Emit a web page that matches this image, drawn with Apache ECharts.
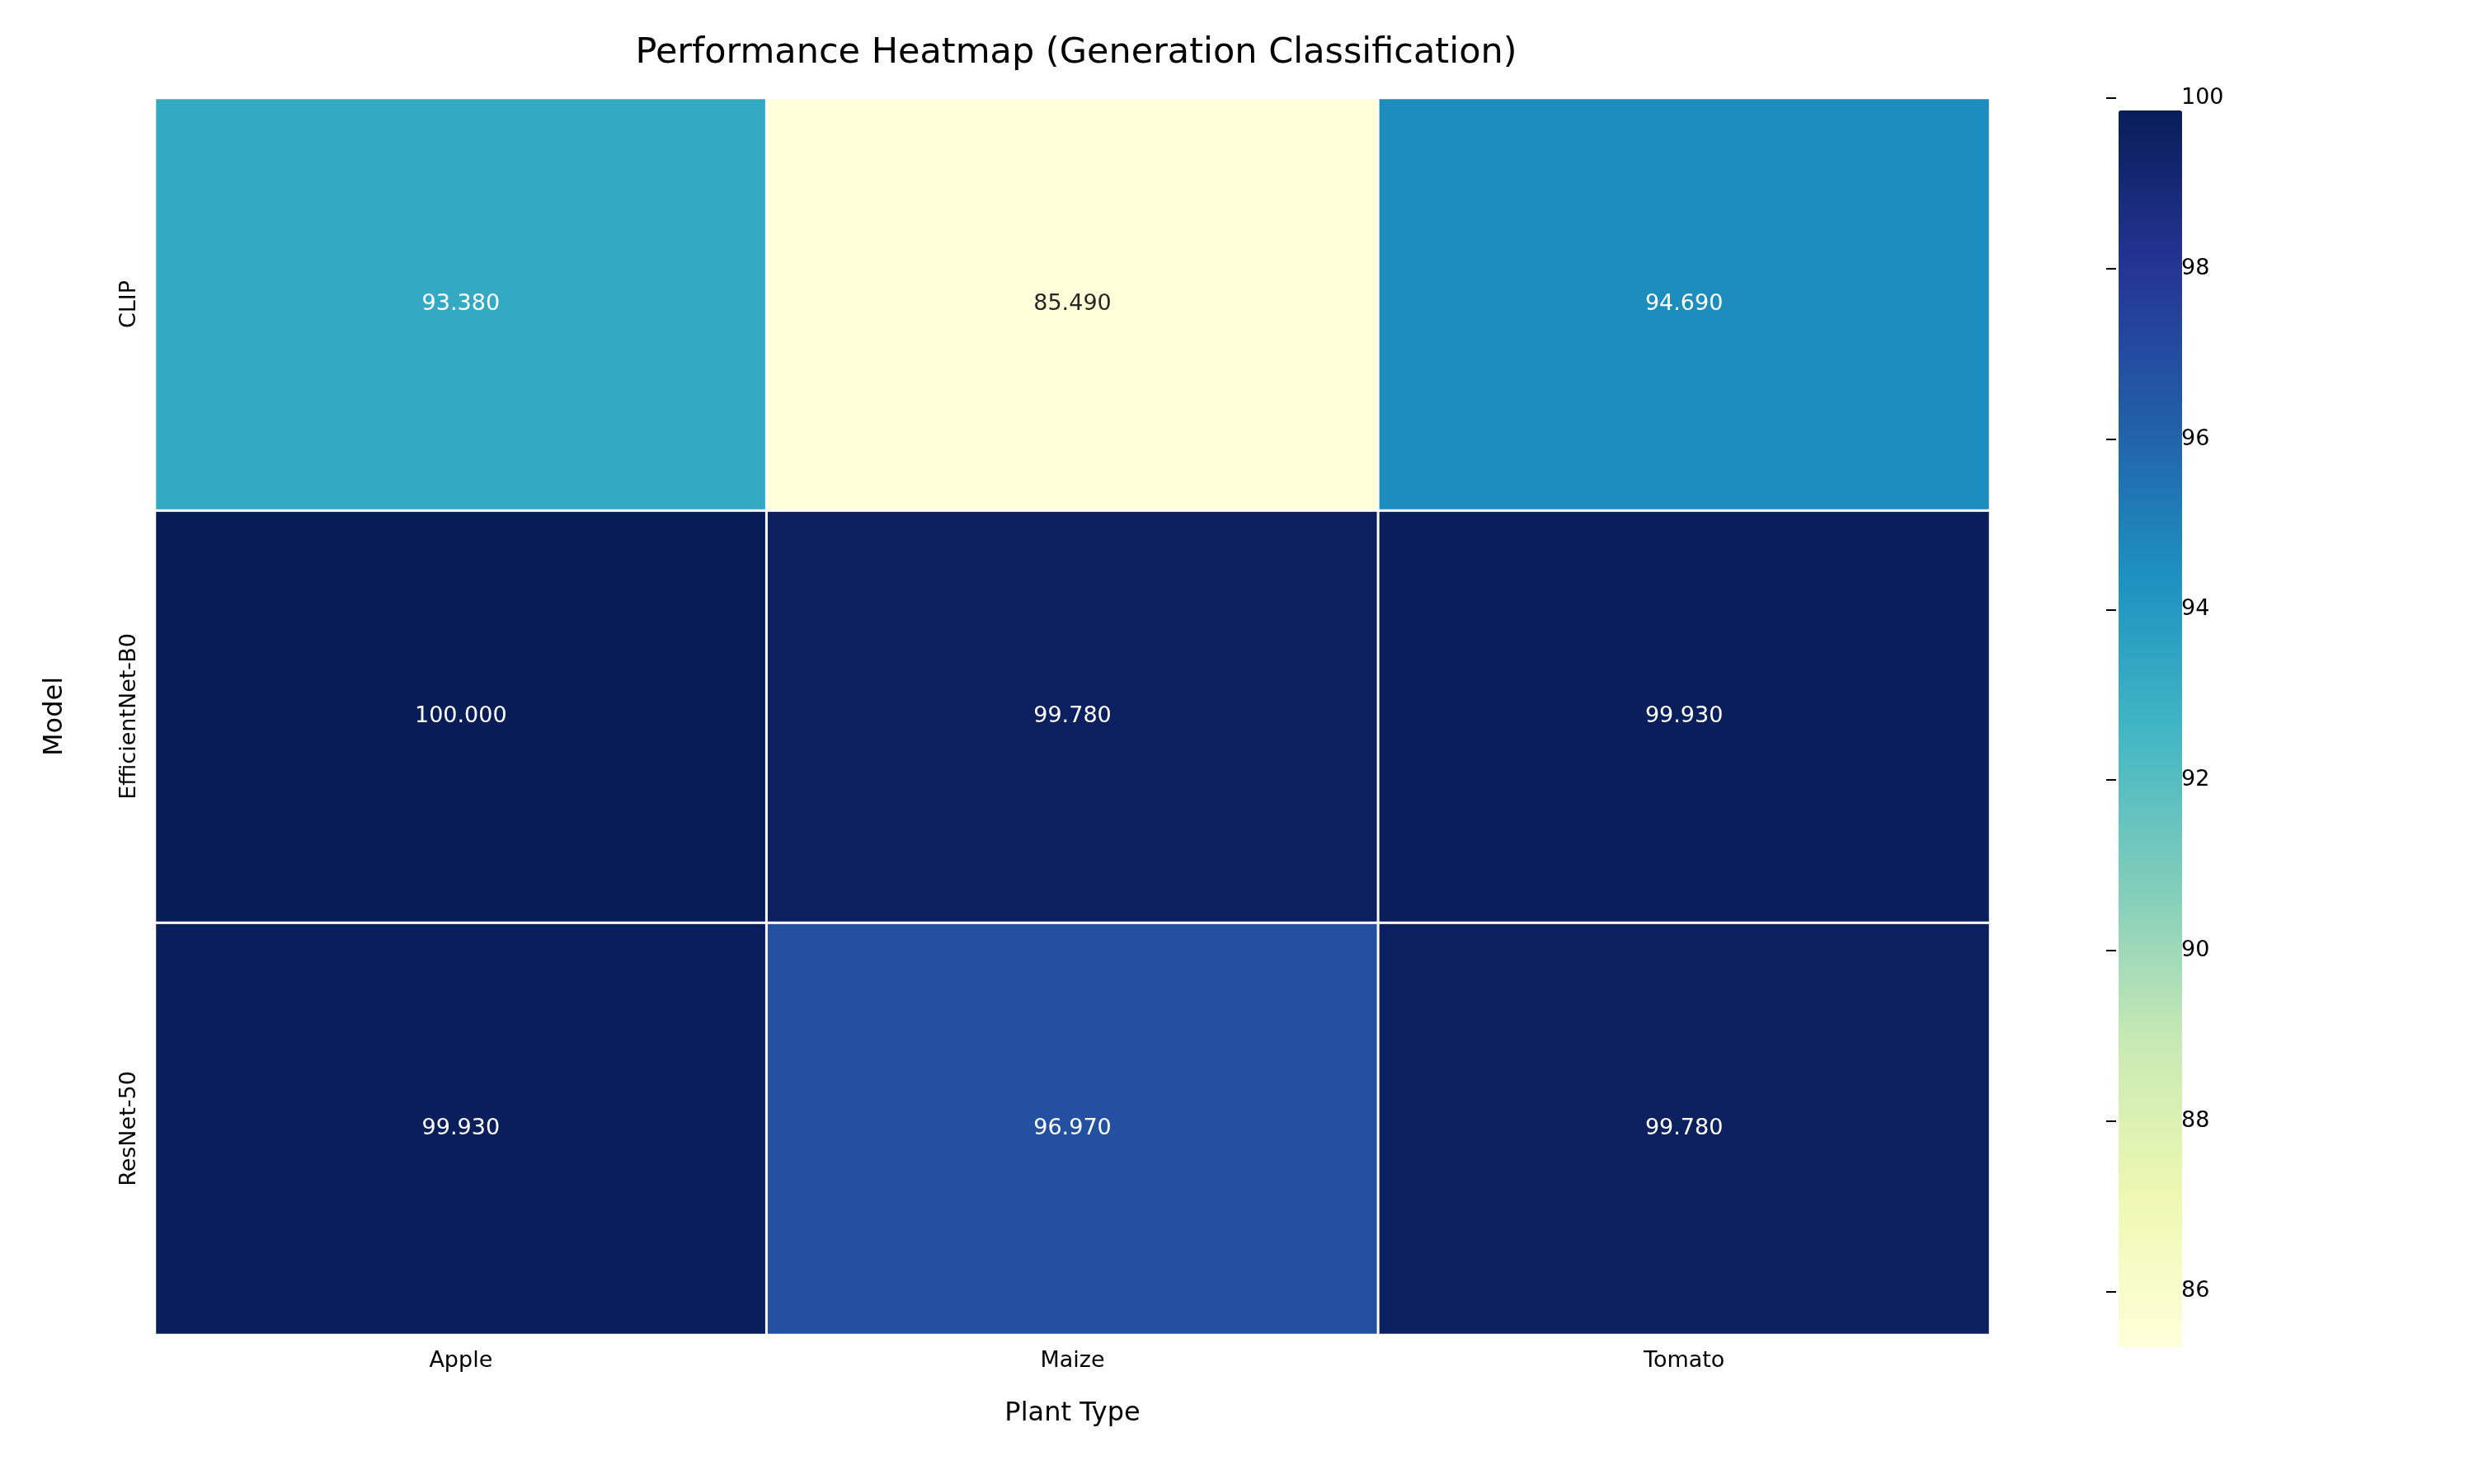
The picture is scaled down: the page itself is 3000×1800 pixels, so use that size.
<!DOCTYPE html>
<html><head><meta charset="utf-8">
<script src="https://cdn.jsdelivr.net/npm/echarts@6/dist/echarts.min.js"></script>
<style>html,body{margin:0;background:#fff}#c{width:3000px;height:1800px}</style>
</head><body><div id="c"></div>
<script>
var plants = ['Apple', 'Maize', 'Tomato']
var models = ['ResNet-50', 'EfficientNet-B0', 'CLIP']
var clipVals = [93.38, 85.49, 94.69]
var effVals = [100.0, 99.78, 99.93]
var resVals = [99.93, 96.97, 99.78]
var barTicks = [86, 88, 90, 92, 94, 96, 98, 100]

var rows = [resVals, effVals, clipVals]
var cells = []
for (var r = 0; r < rows.length; r++) {
    for (var c = 0; c < plants.length; c++) {
        cells.push([c, r, rows[r][c]])
    }
}
var vmin = Math.min.apply(null, cells.map(function(d){ return d[2] }))
var vmax = Math.max.apply(null, cells.map(function(d){ return d[2] }))
var font = 'DejaVu Sans'

var chart = echarts.init(document.getElementById('c'))
chart.setOption({
    animation: false,
    textStyle: { fontFamily: font },
    title: { text: 'Performance Heatmap (Generation Classification)', left: 1300, textAlign: 'center', top: 38,
             textStyle: { fontSize: 43, fontWeight: 'normal', color: '#000', fontFamily: font } },
    grid: [
        { left: 188, right: 587, top: 119, bottom: 181 },
        { left: 2554, width: 77, top: 119, bottom: 181 }
    ],
    xAxis: [
        { type: 'category', data: plants, gridIndex: 0, name: 'Plant Type', nameLocation: 'middle', nameGap: 80,
          nameTextStyle: { fontSize: 32, color: '#000' },
          axisLine: { show: false }, axisTick: { length: 12, lineStyle: { color: '#000', width: 2 }, alignWithLabel: true },
          axisLabel: { fontSize: 27, color: '#000', margin: 18 }, splitLine: { show: false } },
        { type: 'value', gridIndex: 1, show: false, min: 0, max: 1 }
    ],
    yAxis: [
        { type: 'category', data: models, gridIndex: 0, name: 'Model', nameLocation: 'middle', nameGap: 105,
          nameTextStyle: { fontSize: 32, color: '#000' },
          axisLine: { show: false }, axisTick: { length: 12, lineStyle: { color: '#000', width: 2 }, alignWithLabel: true },
          axisLabel: { fontSize: 27, color: '#000', rotate: 90, margin: 18 }, splitLine: { show: false } },
        { type: 'value', gridIndex: 1, position: 'right', min: vmin, max: vmax,
          axisLine: { show: false }, splitLine: { show: false },
          axisTick: { show: true, length: 12, lineStyle: { color: '#000', width: 2 }, customValues: barTicks },
          axisLabel: { fontSize: 27, color: '#000', margin: 14, customValues: barTicks } }
    ],
    visualMap: {
        type: 'continuous', min: vmin, max: vmax, calculable: false, seriesIndex: 0,
        left: 2554, top: 119, itemWidth: 77, itemHeight: 1500, showLabel: false, text: null,
        inRange: { color: ['#ffffd9', '#edf8b1', '#c7e9b4', '#7fcdbb', '#41b6c4', '#1d91c0', '#225ea8', '#253494', '#081d58'] }
    },
    series: [
        { type: 'heatmap', data: cells, xAxisIndex: 0, yAxisIndex: 0,
          itemStyle: { borderColor: '#fff', borderWidth: 3 },
          label: { show: true, fontSize: 27,
                   formatter: function(p){ return p.value[2].toFixed(3) },
                   color: '#fff',
                   rich: {} },
          emphasis: { disabled: true } },
        { type: 'scatter', data: [], xAxisIndex: 1, yAxisIndex: 1 }
    ]
})
// dark text on the light cells
var opt = chart.getOption()
opt.series[0].data = cells.map(function(d){
    var t = (d[2] - vmin) / (vmax - vmin)
    return { value: d, label: { color: t < 0.5 ? '#262626' : '#fff' } }
})
chart.setOption({ series: opt.series })
</script></body></html>
